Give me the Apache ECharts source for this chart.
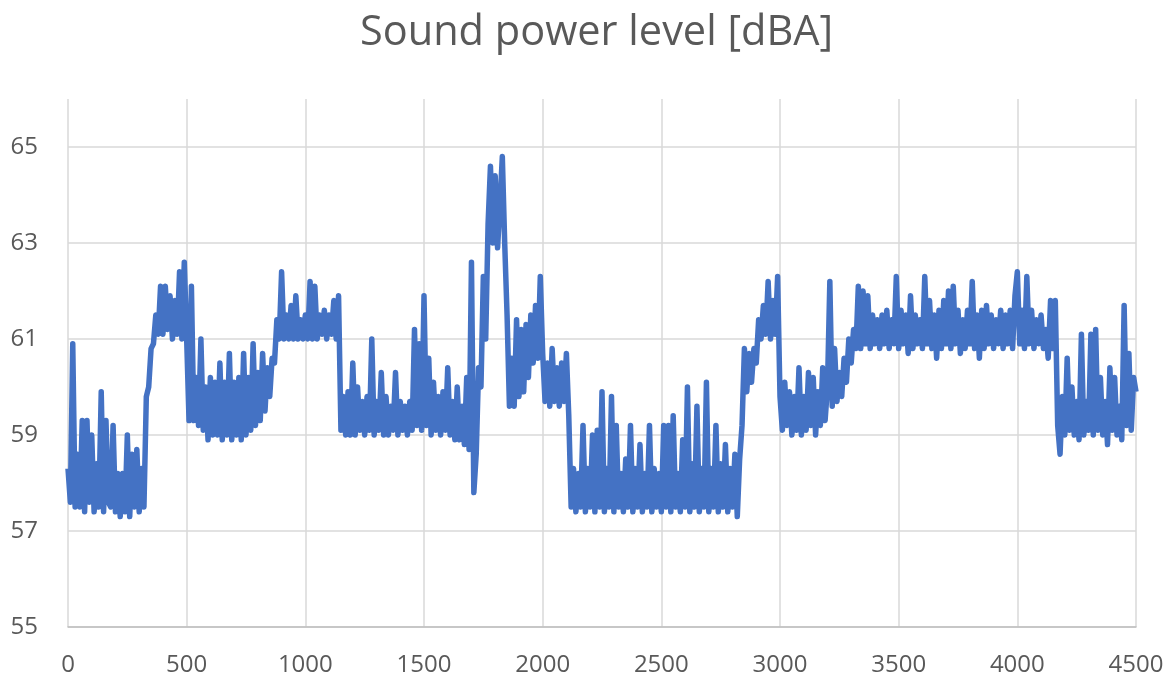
<!DOCTYPE html>
<html>
<head>
<meta charset="utf-8">
<title>Sound power level</title>
<script src="https://cdn.jsdelivr.net/npm/echarts@6/dist/echarts.min.js"></script>
<style>
  html, body { margin: 0; padding: 0; background: #fff; }
  #main { width: 1173px; height: 680px; }
</style>
</head>
<body>
<div id="main"></div>
<script>
// one value every 10 s, one array per 500 s block
var STEP = 10;

var seg0 = [58.3, 57.6, 60.9, 57.5, 58.6, 57.5, 59.3, 57.4, 59.3, 57.6,
            59.0, 57.4, 58.4, 57.5, 59.9, 57.4, 59.3, 57.6, 57.5, 59.2,
            57.4, 58.2, 57.3, 58.2, 57.4, 59.0, 57.3, 58.6, 57.5, 58.7,
            57.4, 58.3, 57.5, 59.8, 60.0, 60.8, 60.9, 61.5, 61.1, 62.1,
            61.1, 62.1, 61.2, 61.9, 61.0, 61.8, 61.1, 62.4, 61.0, 62.6];

var seg1 = [61.0, 59.3, 62.1, 59.3, 60.2, 59.2, 61.0, 59.1, 60.0, 58.9,
            60.2, 59.0, 60.1, 59.0, 60.5, 58.9, 60.1, 59.0, 60.7, 58.9,
            60.1, 59.0, 60.2, 58.9, 60.7, 59.0, 60.2, 59.1, 60.9, 59.2,
            60.3, 59.3, 60.7, 59.5, 60.4, 59.8, 60.6, 60.5, 61.4, 61.0,
            62.4, 61.0, 61.5, 61.0, 61.7, 61.0, 61.9, 61.0, 61.4, 61.0];

var seg2 = [61.5, 61.0, 62.2, 61.0, 62.1, 61.0, 61.5, 61.1, 61.6, 61.0,
            61.5, 61.1, 61.8, 61.0, 61.9, 59.1, 59.8, 59.0, 59.9, 59.0,
            60.5, 59.0, 60.0, 59.1, 59.7, 59.0, 59.8, 59.1, 61.0, 59.0,
            59.7, 59.1, 60.3, 59.0, 59.8, 59.0, 59.6, 59.1, 60.3, 59.0,
            59.7, 59.1, 59.6, 59.0, 59.7, 59.1, 61.2, 59.2, 60.9, 59.1];

var seg3 = [61.9, 59.2, 60.6, 59.0, 60.1, 59.1, 59.8, 59.0, 59.9, 59.1,
            60.4, 59.0, 59.7, 58.9, 60.0, 58.9, 59.6, 58.8, 60.2, 58.7,
            62.6, 57.8, 58.6, 60.4, 60.0, 62.3, 61.0, 63.4, 64.6, 63.0,
            64.4, 62.9, 63.8, 64.8, 63.0, 61.5, 59.6, 60.6, 59.6, 61.4,
            59.8, 61.2, 59.9, 61.3, 60.2, 61.5, 60.5, 61.7, 60.6, 62.3];

var seg4 = [60.7, 59.7, 60.5, 59.6, 60.8, 59.7, 60.4, 59.6, 60.5, 59.7,
            60.7, 59.4, 57.5, 58.3, 57.4, 58.2, 57.5, 59.2, 57.4, 58.3,
            57.5, 59.0, 57.4, 59.1, 57.5, 59.9, 57.4, 58.3, 57.5, 59.8,
            57.4, 59.2, 57.5, 58.2, 57.4, 58.5, 57.5, 59.2, 57.4, 58.3,
            57.5, 58.8, 57.4, 58.2, 57.5, 59.2, 57.4, 58.3, 57.5, 58.2];

var seg5 = [57.4, 59.2, 57.5, 59.2, 57.4, 59.4, 57.5, 58.2, 57.4, 58.9,
            57.5, 60.0, 57.4, 58.4, 57.5, 59.6, 57.4, 58.3, 57.5, 60.1,
            57.4, 58.3, 57.5, 59.2, 57.4, 58.4, 57.5, 58.8, 57.4, 58.3,
            57.5, 58.6, 57.3, 58.5, 59.2, 60.8, 59.9, 60.7, 60.1, 60.8,
            60.5, 61.4, 61.0, 61.7, 61.1, 62.2, 61.0, 61.8, 61.1, 62.3];

var seg6 = [59.8, 59.1, 60.1, 59.2, 59.9, 59.0, 59.8, 59.1, 60.4, 59.0,
            59.8, 59.1, 60.3, 59.2, 60.2, 59.0, 59.9, 59.2, 60.4, 59.3,
            60.0, 62.2, 59.6, 60.8, 59.7, 60.3, 59.8, 60.6, 60.1, 61.0,
            60.5, 61.2, 60.8, 62.1, 60.8, 62.0, 60.9, 61.9, 60.8, 61.5,
            60.9, 61.4, 60.8, 61.5, 60.9, 61.6, 60.8, 61.4, 60.9, 62.3];

var seg7 = [60.8, 61.6, 60.9, 61.5, 60.7, 61.9, 60.8, 61.5, 60.9, 61.4,
            60.8, 62.3, 60.9, 61.8, 60.8, 61.5, 60.6, 61.6, 60.8, 61.8,
            60.9, 62.0, 60.8, 62.1, 60.9, 61.6, 60.7, 61.4, 60.8, 61.6,
            60.9, 62.2, 60.8, 61.5, 60.6, 61.6, 60.8, 61.7, 60.9, 61.5,
            60.8, 61.4, 60.9, 61.6, 60.8, 61.5, 60.9, 61.6, 60.8, 61.9];

var seg8 = [62.4, 60.9, 61.6, 60.8, 62.3, 60.9, 61.6, 60.8, 61.4, 60.9,
            61.5, 60.8, 61.2, 60.6, 61.8, 60.8, 61.8, 59.2, 58.6, 59.8,
            59.0, 60.6, 59.1, 60.0, 59.0, 59.7, 58.9, 61.1, 59.0, 59.7,
            59.1, 61.1, 59.0, 61.2, 59.1, 60.2, 59.0, 59.7, 58.8, 60.4,
            59.1, 60.2, 59.0, 59.6, 58.9, 61.7, 59.2, 60.7, 59.1, 60.2,
            59.9];

var levels = [].concat(seg0, seg1, seg2, seg3, seg4, seg5, seg6, seg7, seg8);
var points = levels.map(function (v, i) { return [i * STEP, v]; });

var myChart = echarts.init(document.getElementById('main'));

myChart.setOption({
  animation: false,
  textStyle: { fontFamily: 'Open Sans' },
  title: {
    text: 'Sound power level [dBA]',
    left: 355,
    top: 7,
    textStyle: { fontFamily: 'Open Sans', fontSize: 41.5, fontWeight: 'normal', color: '#595959' }
  },
  grid: { left: 68, right: 37, top: 99, bottom: 53 },
  xAxis: {
    type: 'value',
    min: 0,
    max: 4500,
    interval: 500,
    axisLine: { show: true, onZero: false, lineStyle: { color: '#bfbfbf', width: 1.5 } },
    axisTick: { show: false },
    axisLabel: {
      fontSize: 24,
      color: '#595959',
      margin: 26,
      formatter: function (v) { return String(v); }
    },
    splitLine: { show: true, lineStyle: { color: '#d9d9d9', width: 1.5 } }
  },
  yAxis: {
    type: 'value',
    min: 55,
    max: 66,
    interval: 2,
    axisLine: { show: false },
    axisTick: { show: false },
    axisLabel: { fontSize: 24, color: '#595959', margin: 30, showMaxLabel: false },
    splitLine: { show: true, showMaxLine: false, lineStyle: { color: '#d9d9d9', width: 1.5 } }
  },
  series: [
    {
      name: 'Sound power level',
      type: 'line',
      data: points,
      showSymbol: false,
      symbol: 'none',
      lineStyle: { color: '#4472c4', width: 5.5, join: 'round' }
    }
  ]
});
</script>
</body>
</html>
